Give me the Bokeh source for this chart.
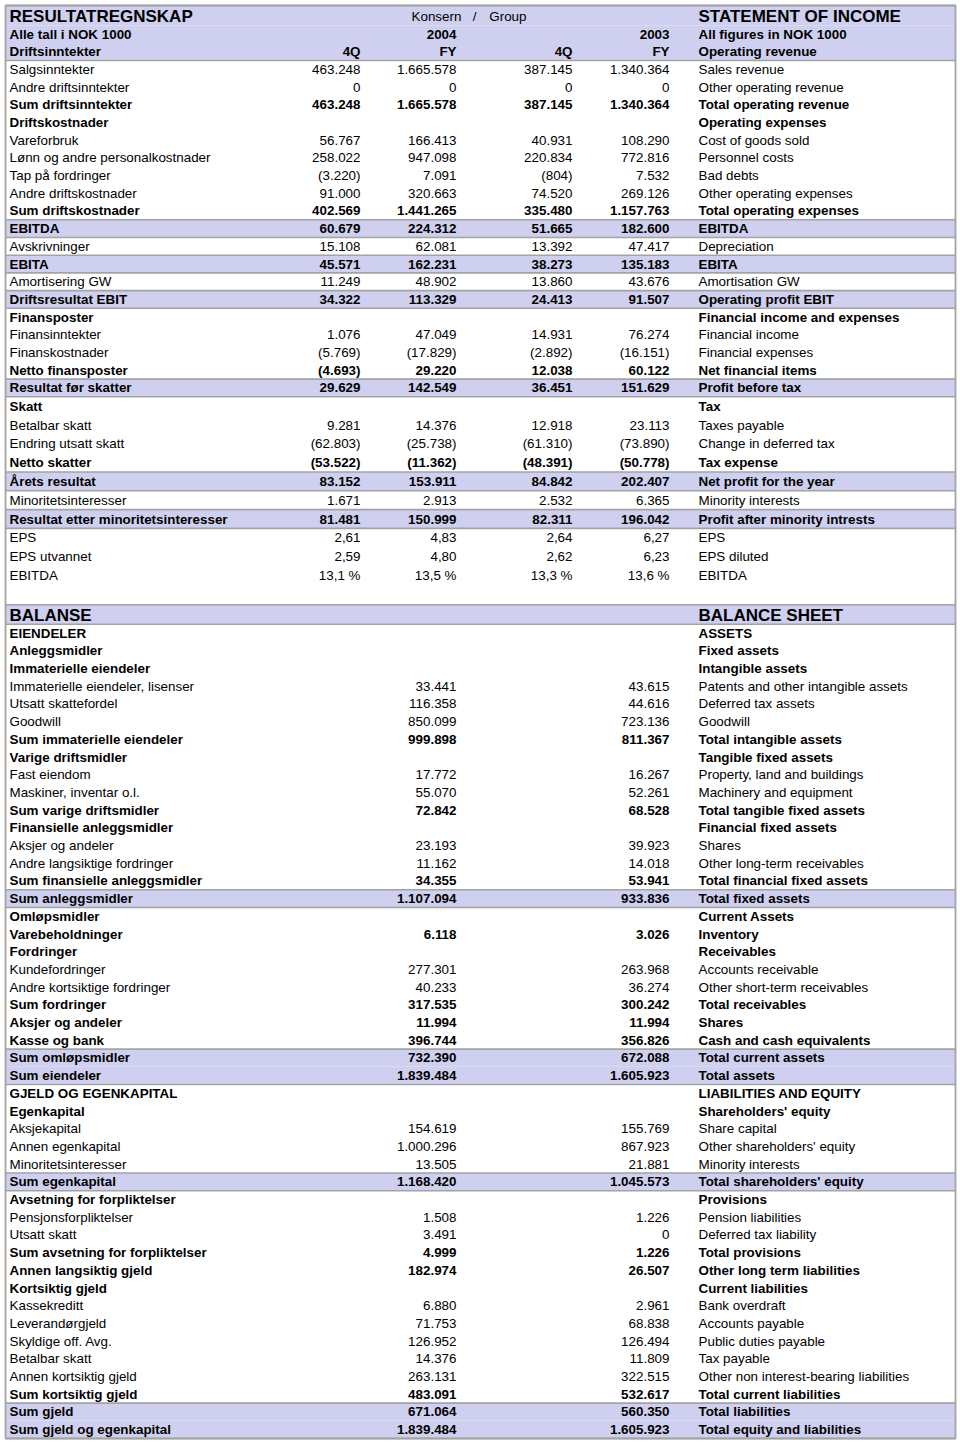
from bokeh.plotting import figure
from bokeh.models import Range1d, ColumnDataSource
from bokeh.core.properties import value
from bokeh.embed import file_html
from bokeh.resources import INLINE

# ---------------- DATA ----------------
inc_labels_no = [
    "Salgsinntekter", "Andre driftsinntekter", "Sum driftsinntekter", "Driftskostnader",
    "Vareforbruk", "Lønn og andre personalkostnader", "Tap på fordringer", "Andre driftskostnader",
    "Sum driftskostnader", "EBITDA", "Avskrivninger", "EBITA", "Amortisering GW",
    "Driftsresultat EBIT", "Finansposter", "Finansinntekter", "Finanskostnader",
    "Netto finansposter", "Resultat før skatter", "Skatt", "Betalbar skatt",
    "Endring utsatt skatt", "Netto skatter", "Årets resultat", "Minoritetsinteresser",
    "Resultat etter minoritetsinteresser", "EPS", "EPS utvannet", "EBITDA",
]
inc_4q_2004 = ["463.248", "0", "463.248", "", "56.767", "258.022", "(3.220)", "91.000",
               "402.569", "60.679", "15.108", "45.571", "11.249", "34.322", "", "1.076",
               "(5.769)", "(4.693)", "29.629", "", "9.281", "(62.803)", "(53.522)", "83.152",
               "1.671", "81.481", "2,61", "2,59", "13,1 %"]
inc_fy_2004 = ["1.665.578", "0", "1.665.578", "", "166.413", "947.098", "7.091", "320.663",
               "1.441.265", "224.312", "62.081", "162.231", "48.902", "113.329", "", "47.049",
               "(17.829)", "29.220", "142.549", "", "14.376", "(25.738)", "(11.362)", "153.911",
               "2.913", "150.999", "4,83", "4,80", "13,5 %"]
inc_4q_2003 = ["387.145", "0", "387.145", "", "40.931", "220.834", "(804)", "74.520",
               "335.480", "51.665", "13.392", "38.273", "13.860", "24.413", "", "14.931",
               "(2.892)", "12.038", "36.451", "", "12.918", "(61.310)", "(48.391)", "84.842",
               "2.532", "82.311", "2,64", "2,62", "13,3 %"]
inc_fy_2003 = ["1.340.364", "0", "1.340.364", "", "108.290", "772.816", "7.532", "269.126",
               "1.157.763", "182.600", "47.417", "135.183", "43.676", "91.507", "", "76.274",
               "(16.151)", "60.122", "151.629", "", "23.113", "(73.890)", "(50.778)", "202.407",
               "6.365", "196.042", "6,27", "6,23", "13,6 %"]
inc_labels_en = [
    "Sales revenue", "Other operating revenue", "Total operating revenue", "Operating expenses",
    "Cost of goods sold", "Personnel costs", "Bad debts", "Other operating expenses",
    "Total operating expenses", "EBITDA", "Depreciation", "EBITA", "Amortisation GW",
    "Operating profit EBIT", "Financial income and expenses", "Financial income",
    "Financial expenses", "Net financial items", "Profit before tax", "Tax", "Taxes payable",
    "Change in deferred tax", "Tax expense", "Net profit for the year", "Minority interests",
    "Profit after minority intrests", "EPS", "EPS diluted", "EBITDA",
]
# row kind: n = normal, b = bold, h = bold + highlighted
inc_kind = ["n", "n", "b", "b", "n", "n", "n", "n", "b", "h", "n", "h", "n", "h", "b", "n", "n",
            "b", "h", "b", "n", "n", "b", "h", "n", "h", "n", "n", "n"]

bal_labels_no = [
    "EIENDELER", "Anleggsmidler", "Immaterielle eiendeler", "Immaterielle eiendeler, lisenser",
    "Utsatt skattefordel", "Goodwill", "Sum immaterielle eiendeler", "Varige driftsmidler",
    "Fast eiendom", "Maskiner, inventar o.l.", "Sum varige driftsmidler",
    "Finansielle anleggsmidler", "Aksjer og andeler", "Andre langsiktige fordringer",
    "Sum finansielle anleggsmidler", "Sum anleggsmidler", "Omløpsmidler", "Varebeholdninger",
    "Fordringer", "Kundefordringer", "Andre kortsiktige fordringer", "Sum fordringer",
    "Aksjer og andeler", "Kasse og bank", "Sum omløpsmidler", "Sum eiendeler",
    "GJELD OG EGENKAPITAL", "Egenkapital", "Aksjekapital", "Annen egenkapital",
    "Minoritetsinteresser", "Sum egenkapital", "Avsetning for forpliktelser",
    "Pensjonsforpliktelser", "Utsatt skatt", "Sum avsetning for forpliktelser",
    "Annen langsiktig gjeld", "Kortsiktig gjeld", "Kassekreditt", "Leverandørgjeld",
    "Skyldige off. Avg.", "Betalbar skatt", "Annen kortsiktig gjeld", "Sum kortsiktig gjeld",
    "Sum gjeld", "Sum gjeld og egenkapital",
]
bal_2004 = ["", "", "", "33.441", "116.358", "850.099", "999.898", "", "17.772", "55.070",
            "72.842", "", "23.193", "11.162", "34.355", "1.107.094", "", "6.118", "",
            "277.301", "40.233", "317.535", "11.994", "396.744", "732.390", "1.839.484",
            "", "", "154.619", "1.000.296", "13.505", "1.168.420", "", "1.508", "3.491",
            "4.999", "182.974", "", "6.880", "71.753", "126.952", "14.376", "263.131",
            "483.091", "671.064", "1.839.484"]
bal_2003 = ["", "", "", "43.615", "44.616", "723.136", "811.367", "", "16.267", "52.261",
            "68.528", "", "39.923", "14.018", "53.941", "933.836", "", "3.026", "",
            "263.968", "36.274", "300.242", "11.994", "356.826", "672.088", "1.605.923",
            "", "", "155.769", "867.923", "21.881", "1.045.573", "", "1.226", "0",
            "1.226", "26.507", "", "2.961", "68.838", "126.494", "11.809", "322.515",
            "532.617", "560.350", "1.605.923"]
bal_labels_en = [
    "ASSETS", "Fixed assets", "Intangible assets", "Patents and other intangible assets",
    "Deferred tax assets", "Goodwill", "Total intangible assets", "Tangible fixed assets",
    "Property, land and buildings", "Machinery and equipment", "Total tangible fixed assets",
    "Financial fixed assets", "Shares", "Other long-term receivables",
    "Total financial fixed assets", "Total fixed assets", "Current Assets", "Inventory",
    "Receivables", "Accounts receivable", "Other short-term receivables", "Total receivables",
    "Shares", "Cash and cash equivalents", "Total current assets", "Total assets",
    "LIABILITIES AND EQUITY", "Shareholders' equity", "Share capital",
    "Other shareholders' equity", "Minority interests", "Total shareholders' equity",
    "Provisions", "Pension liabilities", "Deferred tax liability", "Total provisions",
    "Other long term liabilities", "Current liabilities", "Bank overdraft", "Accounts payable",
    "Public duties payable", "Tax payable", "Other non interest-bearing liabilities",
    "Total current liabilities", "Total liabilities", "Total equity and liabilities",
]
bal_kind = ["b", "b", "b", "n", "n", "n", "b", "b", "n", "n", "b", "b", "n", "n", "b", "h",
            "b", "b", "b", "n", "n", "b", "b", "b", "h", "h", "b", "b", "n", "n", "n", "h",
            "b", "n", "n", "b", "b", "b", "n", "n", "n", "n", "n", "b", "h", "h"]

# ---------------- LAYOUT (styles) ----------------
FONT = "Liberation Sans"
FS = "13.4px"
FS_BIG = "17px"
LAV = "#CFD0EF"
GRID = "#A3A3A3"
X0, X1 = 5.0, 955.0
X_NO, X_EN = 9.0, 698.0
X_INC = [360.0, 456.0, 572.0, 669.0]
X_BAL = [456.0, 669.0]
W, H = 960, 1443

heights = [20.0, 17.5, 17.5] + [17.7] * 19 + [18.8] * 10 + [20.0] + [19.5] + [17.7] * len(bal_kind)
tops, bots, mids = [], [], []
yy = 5.0
for h in heights:
    tops.append(yy); mids.append(yy + h / 2.0); yy += h; bots.append(yy)

hl = [True] * 3 + [k == "h" for k in inc_kind] + [False] + [True] + [k == "h" for k in bal_kind]

p = figure(width=W, height=H, x_range=Range1d(0, W), y_range=Range1d(H, 0),
           output_backend="svg", toolbar_location=None, min_border=0,
           x_axis_type=None, y_axis_type=None)
p.grid.visible = False
p.outline_line_color = None
p.background_fill_color = "white"
p.border_fill_color = "white"

# highlight fills
hi = [i for i, f in enumerate(hl) if f]
p.quad(left=[X0] * len(hi), right=[X1] * len(hi), top=[tops[i] for i in hi],
       bottom=[bots[i] for i in hi], fill_color=LAV, line_color=None)

# separator lines
ly = []
for i, f in enumerate(hl):
    if f and (i == 0 or not hl[i - 1]):
        ly.append(tops[i])
    if f and (i == len(hl) - 1 or not hl[i + 1]):
        ly.append(bots[i])
p.segment(x0=[X0] * len(ly), x1=[X1] * len(ly), y0=ly, y1=ly, line_color=GRID, line_width=1.6)

# outer border
p.quad(left=[X0], right=[X1], top=[tops[0]], bottom=[bots[-1]], fill_color=None,
       line_color=GRID, line_width=1.8)


def put(xs, ys, texts, align, bold, size=FS):
    if not texts:
        return
    src = ColumnDataSource(dict(x=xs, y=ys, t=texts))
    p.text(x="x", y="y", text="t", source=src, text_align=align, text_baseline="middle",
           text_font=value(FONT), text_font_size=size,
           text_font_style="bold" if bold else "normal", text_color="#000000")


# header rows
put([X_NO], [mids[0] + 0.5], ["RESULTATREGNSKAP"], "left", True, FS_BIG)
put([411.0], [mids[0] + 0.5], ["Konsern"], "left", False)
put([474.0], [mids[0] + 0.5], ["/"], "center", False)
put([526.0], [mids[0] + 0.5], ["Group"], "right", False)
put([X_EN], [mids[0] + 0.5], ["STATEMENT OF INCOME"], "left", True, FS_BIG)
put([X_NO, X_EN], [mids[1]] * 2, ["Alle tall i NOK 1000", "All figures in NOK 1000"], "left", True)
put([X_INC[1], X_INC[3]], [mids[1]] * 2, ["2004", "2003"], "right", True)
put([X_NO, X_EN], [mids[2]] * 2, ["Driftsinntekter", "Operating revenue"], "left", True)
put(X_INC, [mids[2]] * 4, ["4Q", "FY", "4Q", "FY"], "right", True)

# income statement body
inc_cols = [inc_4q_2004, inc_fy_2004, inc_4q_2003, inc_fy_2003]
for bold in (False, True):
    idx = [j for j, k in enumerate(inc_kind) if (k != "n") == bold]
    ys = [mids[3 + j] for j in idx]
    put([X_NO] * len(idx), ys, [inc_labels_no[j] for j in idx], "left", bold)
    put([X_EN] * len(idx), ys, [inc_labels_en[j] for j in idx], "left", bold)
    for c, col in enumerate(inc_cols):
        put([X_INC[c]] * len(idx), ys, [col[j] for j in idx], "right", bold)

# balance sheet
b0 = 3 + len(inc_kind) + 1
put([X_NO], [mids[b0] + 0.5], ["BALANSE"], "left", True, FS_BIG)
put([X_EN], [mids[b0] + 0.5], ["BALANCE SHEET"], "left", True, FS_BIG)
bal_cols = [bal_2004, bal_2003]
for bold in (False, True):
    idx = [j for j, k in enumerate(bal_kind) if (k != "n") == bold]
    ys = [mids[b0 + 1 + j] for j in idx]
    put([X_NO] * len(idx), ys, [bal_labels_no[j] for j in idx], "left", bold)
    put([X_EN] * len(idx), ys, [bal_labels_en[j] for j in idx], "left", bold)
    for c, col in enumerate(bal_cols):
        put([X_BAL[c]] * len(idx), ys, [col[j] for j in idx], "right", bold)

open("out.html", "w").write(file_html(p, INLINE))
